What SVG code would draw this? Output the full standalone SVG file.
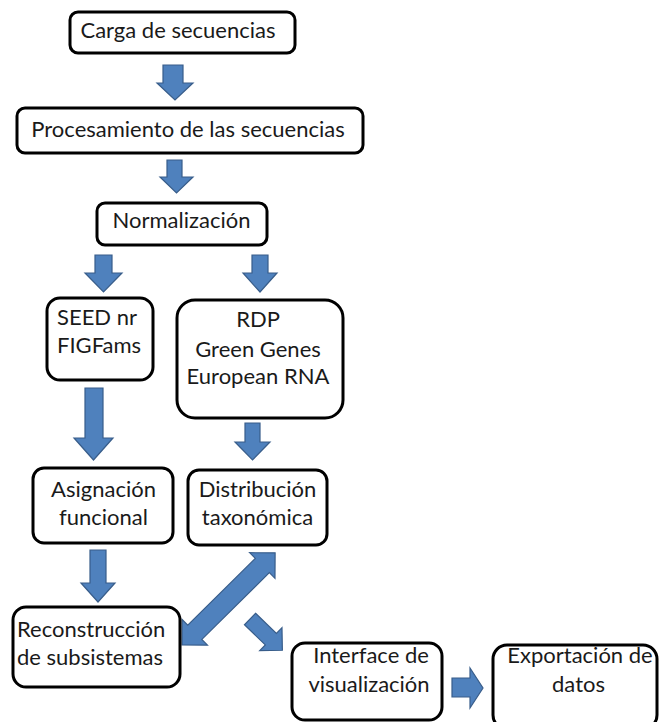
<svg xmlns="http://www.w3.org/2000/svg" width="659" height="722" viewBox="0 0 659 722">
  <style>
    .box { fill: #ffffff; stroke: #000000; stroke-width: 3; }
    .arrow { fill: #4f81bd; stroke: #385d8a; stroke-width: 1.2; stroke-linejoin: miter; }
    .lbl { font-family: Lato, "Liberation Sans", Arial, sans-serif; font-size: 22px; fill: #1a1a1a; }
    .c { text-anchor: middle; }
  </style>
  <rect width="659" height="722" fill="#ffffff"/>

  <!-- block arrows -->
  <g id="connectors">
    <polygon class="arrow" points="163,65 183,65 183,83 193,83 175,100 157,83 163,83"/>
    <polygon class="arrow" points="167,160 182,160 182,177 193,177 176.5,193 160,177 167,177"/>
    <polygon class="arrow" points="95,255 112,255 112,273 122,273 103.5,292 85,273 95,273"/>
    <polygon class="arrow" points="252,255 268,255 268,273 277,273 260,292 243,273 252,273"/>
    <polygon class="arrow" points="85,388 103,388 103,438 113,438 93.5,460 74,438 85,438"/>
    <polygon class="arrow" points="245,423 260,423 260,442 270,442 252.5,460 235,442 245,442"/>
    <polygon class="arrow" points="90,550 106,550 106,583 115,583 98,602 81,583 90,583"/>
    <!-- two-way diagonal arrow between Reconstrucción and Distribución -->
    <polygon class="arrow" transform="translate(182,645) rotate(-44.7)"
             points="0,0 18,-18 18,-10 113,-10 113,-18 131,0 113,18 113,10 18,10 18,18"/>
    <!-- diagonal arrow towards the visualisation interface -->
    <polygon class="arrow" transform="translate(250,619) rotate(44)"
             points="0,-8 29,-8 29,-16 45,0 29,16 29,8 0,8"/>
    <polygon class="arrow" points="452,678 470,678 470,668 483,688 470,708 470,697 452,697"/>
  </g>

  <g id="carga">
    <rect class="box" x="70" y="12" width="225" height="41" rx="8"/>
    <text class="lbl c" x="178" y="38">Carga de secuencias</text>
  </g>

  <g id="procesamiento">
    <rect class="box" x="17" y="108" width="346" height="45" rx="8"/>
    <text class="lbl c" x="188" y="137">Procesamiento de las secuencias</text>
  </g>

  <g id="normalizacion">
    <rect class="box" x="97" y="203" width="170" height="42" rx="8"/>
    <text class="lbl c" x="181.5" y="228">Normalización</text>
  </g>

  <g id="seed">
    <rect class="box" x="47" y="298" width="106" height="82" rx="13"/>
    <text class="lbl" x="57" y="325">SEED nr</text>
    <text class="lbl" x="57" y="353">FIGFams</text>
  </g>

  <g id="rdp">
    <rect class="box" x="177" y="300" width="166" height="118" rx="18"/>
    <text class="lbl c" x="258" y="327">RDP</text>
    <text class="lbl c" x="258" y="357">Green Genes</text>
    <text class="lbl c" x="258" y="384">European RNA</text>
  </g>

  <g id="asignacion">
    <rect class="box" x="33" y="468" width="140" height="75" rx="11"/>
    <text class="lbl c" x="103.5" y="497">Asignación</text>
    <text class="lbl c" x="103.5" y="525">funcional</text>
  </g>

  <g id="distribucion">
    <rect class="box" x="188" y="470" width="139" height="75" rx="11"/>
    <text class="lbl c" x="257.5" y="497">Distribución</text>
    <text class="lbl c" x="257.5" y="525">taxonómica</text>
  </g>

  <g id="reconstruccion">
    <rect class="box" x="13" y="607" width="167" height="80" rx="13"/>
    <text class="lbl" x="17" y="637">Reconstrucción</text>
    <text class="lbl" x="17" y="665">de subsistemas</text>
  </g>

  <g id="interface">
    <rect class="box" x="292" y="643" width="150" height="77" rx="13"/>
    <text class="lbl c" x="371" y="663">Interface de</text>
    <text class="lbl c" x="369" y="692">visualización</text>
  </g>

  <g id="exportacion">
    <rect class="box" x="493" y="645" width="164" height="84" rx="14"/>
    <text class="lbl c" x="580" y="663">Exportación de</text>
    <text class="lbl c" x="578.5" y="692">datos</text>
  </g>
</svg>
